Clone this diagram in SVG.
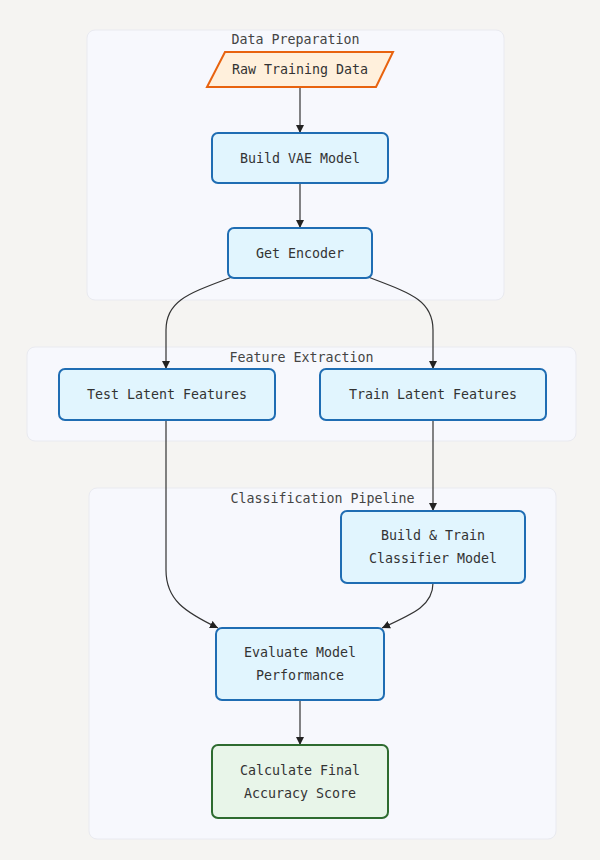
<svg xmlns="http://www.w3.org/2000/svg" width="600" height="860" viewBox="0 0 600 860">
<defs>
<style>
.cl{fill:#f7f8fd;stroke:#e9eaf0;stroke-width:1}
.ct{font-family:"DejaVu Sans Mono","Liberation Mono",monospace;font-size:13.3px;fill:#444;text-anchor:middle}
.nb{fill:#e1f5fe;stroke:#1f6db3;stroke-width:2}
.ng{fill:#e8f5e9;stroke:#2e6b30;stroke-width:2}
.no{fill:#fff0dc;stroke:#e8630f;stroke-width:2}
.t{font-family:"DejaVu Sans Mono","Liberation Mono",monospace;font-size:13.3px;fill:#333;text-anchor:middle;dominant-baseline:central}
.e{fill:none;stroke:#333;stroke-width:1.2;marker-end:url(#ah)}
</style>
<marker id="ah" viewBox="0 0 10 10" refX="10" refY="5" markerWidth="8" markerHeight="8" markerUnits="userSpaceOnUse" orient="auto">
<path d="M0,0 L10,5 L0,10 z" fill="#222"/>
</marker>
</defs>
<rect x="0" y="0" width="600" height="860" fill="#f5f4f2"/>
<g id="clusters">
<g id="cluster-data-preparation"><rect class="cl" x="87" y="30" width="417" height="270" rx="8"/><text class="ct" x="295.5" y="44">Data Preparation</text></g>
<g id="cluster-feature-extraction"><rect class="cl" x="27" y="347" width="549" height="94" rx="8"/><text class="ct" x="301.5" y="362">Feature Extraction</text></g>
<g id="cluster-classification-pipeline"><rect class="cl" x="89" y="488" width="467" height="351" rx="8"/><text class="ct" x="322.5" y="503">Classification Pipeline</text></g>
</g>
<g id="connectors">
<path class="e" d="M300,88 L300,133"/>
<path class="e" d="M300,183 L300,228"/>
<path class="e" d="M232,277 C190,293 166,300 166,330 L166,369"/>
<path class="e" d="M368,277 C410,293 433,300 433,330 L433,369"/>
<path class="e" d="M166,420 L166,570 C166,600 185,612 218,628"/>
<path class="e" d="M433,420 L433,511"/>
<path class="e" d="M433,583 C433,605 415,613 382,628"/>
<path class="e" d="M300,700 L300,745"/>
</g>
<g id="node-raw-training-data"><polygon class="no" points="225,52 393,52 376,87 207,87"/><text class="t" x="300" y="69.5">Raw Training Data</text></g>
<g id="node-build-vae-model"><rect class="nb" x="212" y="133" width="176" height="50" rx="6"/><text class="t" x="300" y="158">Build VAE Model</text></g>
<g id="node-get-encoder"><rect class="nb" x="228" y="228" width="144" height="50" rx="6"/><text class="t" x="300" y="253">Get Encoder</text></g>
<g id="node-test-latent-features"><rect class="nb" x="59" y="369" width="216" height="51" rx="6"/><text class="t" x="167" y="394.5">Test Latent Features</text></g>
<g id="node-train-latent-features"><rect class="nb" x="320" y="369" width="226" height="51" rx="6"/><text class="t" x="433" y="394.5">Train Latent Features</text></g>
<g id="node-build-train-classifier"><rect class="nb" x="341" y="511" width="184" height="72" rx="6"/><text class="t" x="433" y="535">Build &amp; Train</text><text class="t" x="433" y="558">Classifier Model</text></g>
<g id="node-evaluate-model"><rect class="nb" x="216" y="628" width="168" height="72" rx="6"/><text class="t" x="300" y="652.5">Evaluate Model</text><text class="t" x="300" y="675">Performance</text></g>
<g id="node-calculate-accuracy"><rect class="ng" x="212" y="745" width="176" height="73" rx="6"/><text class="t" x="300" y="770">Calculate Final</text><text class="t" x="300" y="793">Accuracy Score</text></g>
</svg>
